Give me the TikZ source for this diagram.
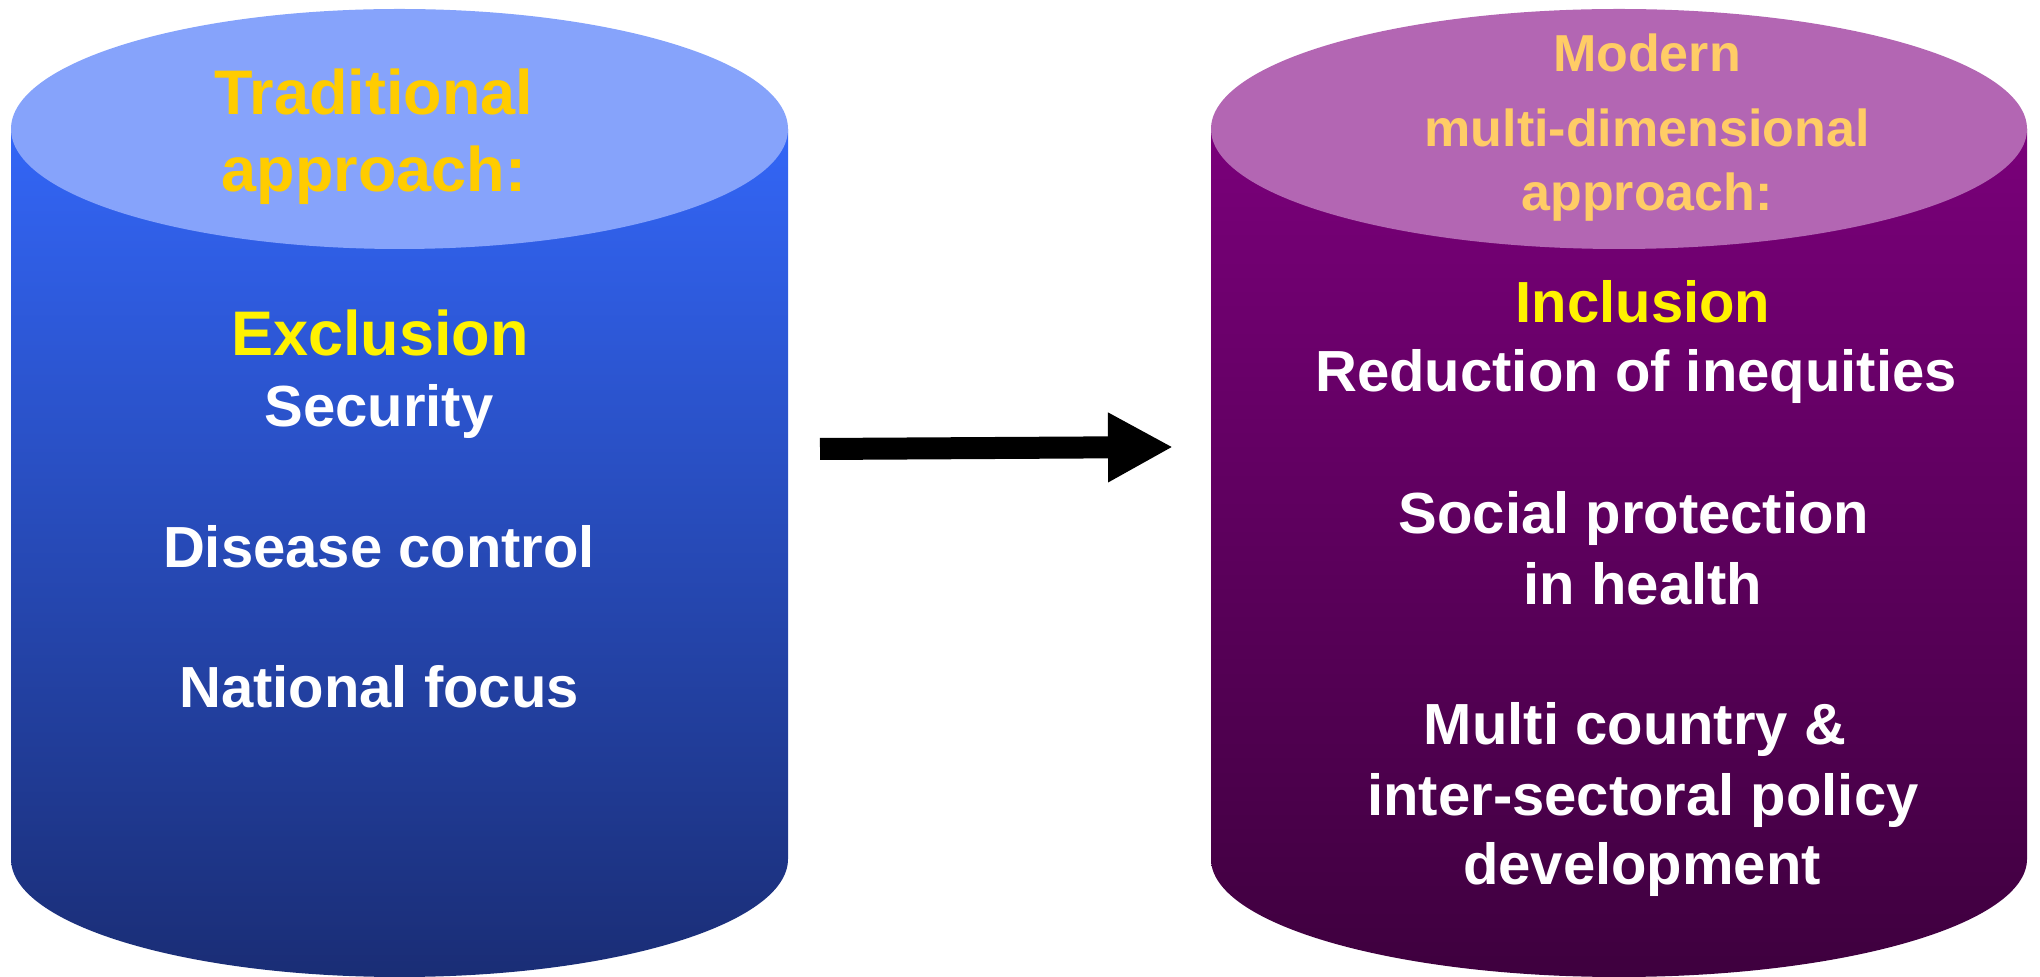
\documentclass[tikz,border=0pt]{standalone}
\usepackage{fontspec}
\setmainfont{Liberation Sans}
\usepackage{xcolor}
\usetikzlibrary{arrows.meta}

\definecolor{tradcap}{HTML}{86A3FB}
\definecolor{tradhigh}{HTML}{3366F7}
\definecolor{tradlow}{HTML}{1A2D75}
\definecolor{modcap}{HTML}{B366B3}
\definecolor{modhigh}{HTML}{7A007A}
\definecolor{modlow}{HTML}{3E003E}
\definecolor{tradtitle}{HTML}{FFCC00}
\definecolor{modtitle}{HTML}{FFCC66}

\begin{document}
\begin{tikzpicture}[x=1pt,y=1pt]
\tikzstyle{heading} = [anchor=base,inner sep=0pt,font=\bfseries\fontsize{63}{72}\selectfont];
\tikzstyle{subheading} = [anchor=base,inner sep=0pt,font=\bfseries\fontsize{52}{60}\selectfont,text=modtitle];
\tikzstyle{body} = [anchor=base,inner sep=0pt,font=\bfseries\fontsize{58}{70}\selectfont,text=white];
\useasboundingbox (0,0) rectangle (2040,977);

% left cylinder
\path[top color=tradhigh,bottom color=tradlow] (11,848) -- (11,118) arc[start angle=180,end angle=360,x radius=388.5,y radius=118] -- (788,848) -- cycle;
\path[fill=tradcap] (399.5,848) ellipse [x radius=388.5,y radius=120];

% right cylinder
\path[top color=modhigh,bottom color=modlow] (1211,848) -- (1211,118) arc[start angle=180,end angle=360,x radius=408,y radius=118] -- (2027,848) -- cycle;
\path[fill=modcap] (1619,848) ellipse [x radius=408,y radius=120];

\node[heading,text=tradtitle] (trad1) at (374,862) {Traditional};
\node[heading,text=tradtitle] (trad2) at (374,785) {approach:};
\node[heading,text=yellow] (excl) at (380,621) {Exclusion};
\node[body] (secur) at (379,550) {Security};
\node[body] (disease) at (379,409) {Disease control};
\node[body] (national) at (379,269) {National focus};

\node[subheading] (mod1) at (1647,905) {Modern};
\node[subheading] (mod2) at (1647,830) {multi-dimensional};
\node[subheading] (mod3) at (1647,766) {approach:};
\node[body,text=yellow] (incl) at (1643,654) {Inclusion};
\node[body] (reduc) at (1636,585) {Reduction of inequities};
\node[body] (social1) at (1634,443) {Social protection};
\node[body] (social2) at (1643,372) {in health};
\node[body] (multi1) at (1635,232) {Multi country \&};
\node[body] (multi2) at (1643,161) {inter-sectoral policy};
\node[body] (multi3) at (1642,92) {development};

\coordinate (arrowtail) at (820,528);
\coordinate (arrowtip) at (1173,530);
\draw[line width=22pt,-{Triangle[length=65pt,width=65pt]}] (arrowtail) -- (arrowtip);

\end{tikzpicture}
\end{document}
